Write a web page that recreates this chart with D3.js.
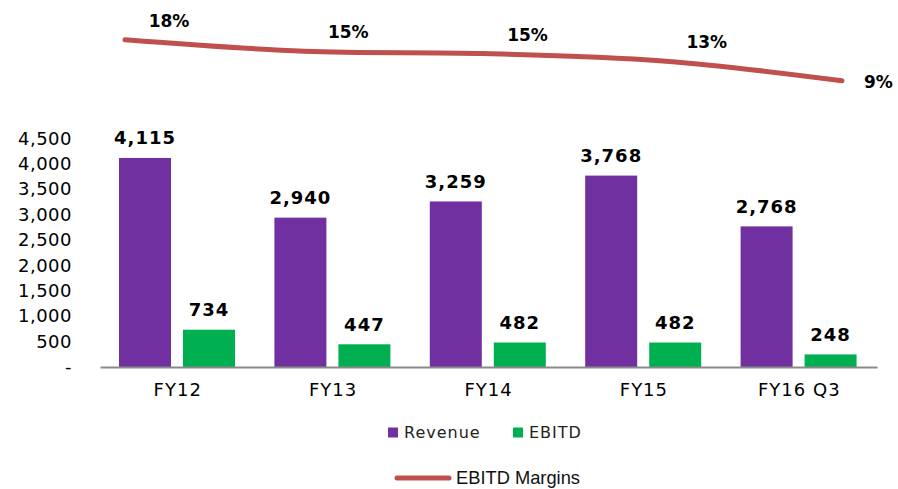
<!DOCTYPE html>
<html lang="en">
<head>
    <meta charset="UTF-8" />
    <title>Revenue, EBITD and EBITD Margins</title>
    <script src="https://d3js.org/d3.v7.min.js"></script>
    <style>
        body {
            margin: 0;
            background: #ffffff;
            font-family: "DejaVu Sans", Verdana, sans-serif;
        }
    </style>
</head>
<body>
    <svg id="chart" width="898" height="489"></svg>
    <script>
        // Data
        var categories = ["FY12", "FY13", "FY14", "FY15", "FY16 Q3"];
        var revenue = [4115, 2940, 3259, 3768, 2768];
        var ebitd = [734, 447, 482, 482, 248];
        var margins = [17.9, 15.4, 14.9, 13.3, 9.0];   // % (labels are rounded)
        var yTicks = [0, 500, 1000, 1500, 2000, 2500, 3000, 3500, 4000, 4500];
        var seriesNames = ["Revenue", "EBITD"];
        var colors = { Revenue: "#7030A0", EBITD: "#00B050", margin: "#C0504D" };

        var w = 898;
        var h = 489;
        var svg = d3.select("#chart");

        // ---- bar chart ----
        var x0 = d3.scaleBand()
            .domain(categories)
            .range([100, 877]);

        var x1 = d3.scaleBand()
            .domain(seriesNames)
            .range([19, 135])
            .paddingInner(0.1875);

        var y = d3.scaleLinear()
            .domain([0, 4500])
            .range([367, 138.4]);

        // y axis labels only (no line, no ticks)
        var yAxis = d3.axisLeft(y)
            .tickValues(yTicks)
            .tickSize(0)
            .tickPadding(0)
            .tickFormat(d => d === 0 ? "-" : d3.format(",")(d));

        var gy = svg.append("g")
            .attr("transform", "translate(72,0)")
            .call(yAxis);
        gy.select(".domain").remove();
        gy.selectAll("text")
            .attr("font-family", "DejaVu Sans, Verdana, sans-serif")
            .attr("font-size", 18)
            .attr("letter-spacing", "0.5px")
            .attr("fill", "#000");

        var rows = categories.map((c, i) => ({
            cat: c,
            values: [
                { key: "Revenue", value: revenue[i] },
                { key: "EBITD", value: ebitd[i] }
            ]
        }));

        var groups = svg.selectAll("g.cat")
            .data(rows)
            .enter()
            .append("g")
            .attr("class", "cat")
            .attr("transform", d => "translate(" + x0(d.cat) + ",0)");

        groups.selectAll("rect")
            .data(d => d.values)
            .enter()
            .append("rect")
            .attr("x", d => x1(d.key))
            .attr("y", d => y(d.value))
            .attr("width", x1.bandwidth())
            .attr("height", d => y(0) - y(d.value))
            .attr("fill", d => colors[d.key]);

        groups.selectAll("text.val")
            .data(d => d.values)
            .enter()
            .append("text")
            .attr("class", "val")
            .attr("x", d => x1(d.key) + x1.bandwidth() / 2)
            .attr("y", d => y(d.value) - 20)
            .attr("text-anchor", "middle")
            .attr("dominant-baseline", "central")
            .attr("font-size", 18)
            .attr("font-weight", "bold")
            .attr("letter-spacing", "1px")
            .text(d => d3.format(",")(d.value));

        // x axis line and category labels
        var xAxis = d3.axisBottom(x0)
            .tickSize(0)
            .tickPadding(16);

        var gx = svg.append("g")
            .attr("transform", "translate(0," + y(0) + ")")
            .call(xAxis);
        gx.select(".domain")
            .attr("stroke", "#8a8a8a")
            .attr("stroke-width", 2);
        gx.selectAll("text")
            .attr("font-family", "DejaVu Sans, Verdana, sans-serif")
            .attr("font-size", 18)
            .attr("letter-spacing", "1px")
            .attr("fill", "#000");

        // ---- margins line ----
        var xm = d3.scalePoint()
            .domain(categories)
            .range([125, 842]);

        var ym = d3.scaleLinear()
            .domain([0, 20])
            .range([122.1, 30.1]);

        var line = d3.line()
            .x((d, i) => xm(categories[i]))
            .y(d => ym(d))
            .curve(d3.curveCardinal.tension(0));

        svg.append("path")
            .datum(margins)
            .attr("d", line)
            .attr("fill", "none")
            .attr("stroke", colors.margin)
            .attr("stroke-width", 5)
            .attr("stroke-linecap", "round");

        svg.selectAll("text.pct")
            .data(margins)
            .enter()
            .append("text")
            .attr("class", "pct")
            .attr("x", (d, i) => i === margins.length - 1 ? xm(categories[i]) + 22 : xm(categories[i]) + 44)
            .attr("y", (d, i) => i === margins.length - 1 ? ym(d) + 1 : ym(d) - 19)
            .attr("text-anchor", (d, i) => i === margins.length - 1 ? "start" : "middle")
            .attr("dominant-baseline", "central")
            .attr("font-size", 17)
            .attr("font-weight", "bold")
            .text(d => Math.round(d) + "%");

        // ---- legends ----
        var legend = svg.append("g");
        var legendX = { Revenue: 388, EBITD: 513 };
        seriesNames.forEach(function (s) {
            legend.append("rect")
                .attr("x", legendX[s])
                .attr("y", 427.5)
                .attr("width", 10)
                .attr("height", 10)
                .attr("fill", colors[s]);
            legend.append("text")
                .attr("x", legendX[s] + 16)
                .attr("y", 432.5)
                .attr("dominant-baseline", "central")
                .attr("font-size", 16)
                .attr("letter-spacing", "1px")
                .attr("fill", "#222")
                .text(s);
        });

        legend.append("line")
            .attr("x1", 397)
            .attr("x2", 449)
            .attr("y1", 478)
            .attr("y2", 478)
            .attr("stroke", colors.margin)
            .attr("stroke-width", 5)
            .attr("stroke-linecap", "round");

        legend.append("text")
            .attr("x", 456)
            .attr("y", 484)
            .attr("font-family", "Liberation Sans Narrow, Liberation Sans, Arial, sans-serif")
            .attr("font-size", 19)
            .attr("textLength", 124)
            .attr("lengthAdjust", "spacingAndGlyphs")
            .attr("fill", "#111")
            .text("EBITD Margins");
    </script>
</body>
</html>
